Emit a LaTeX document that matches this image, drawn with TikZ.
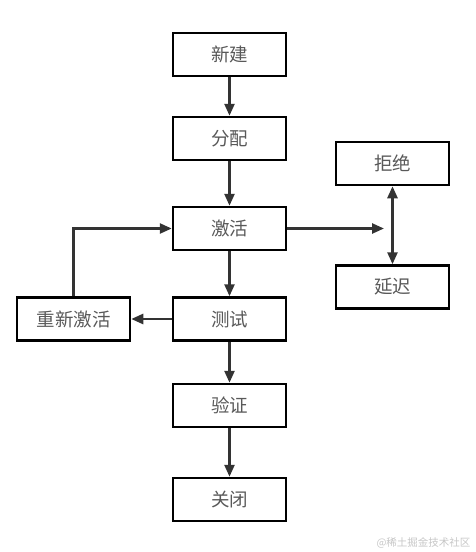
\documentclass[tikz,border=0pt]{standalone}
\usepackage{fontspec}
\newfontfamily\cjk{Noto Sans CJK SC}
\usetikzlibrary{arrows.meta}
\begin{document}
\begin{tikzpicture}[x=1pt,y=-1pt,
  box/.style={draw=black,line width=2.5pt,minimum width=113pt,minimum height=43pt,inner sep=0pt,font=\cjk\fontsize{18.5}{20}\selectfont,text=black!65},
  conn/.style={draw=black!80,line width=2.5pt,-{Triangle[length=12pt,width=10pt]}},
  dconn/.style={draw=black!80,line width=2.5pt,{Triangle[length=12pt,width=10pt]}-{Triangle[length=12pt,width=10pt]}}]
\useasboundingbox[fill=white] (0,0) rectangle (476,552);
\node[box] (new) at (229.5,54.5) {新建};
\node[box] (assign) at (229.5,138.5) {分配};
\node[box] (act) at (229.5,228.5) {激活};
\node[box] (test) at (229.5,319) {测试};
\node[box] (react) at (73.5,319) {重新激活};
\node[box] (verify) at (229.5,405.5) {验证};
\node[box] (close) at (229.5,499.5) {关闭};
\node[box] (reject) at (392.5,163.5) {拒绝};
\node[box] (delay) at (392.5,287) {延迟};
\coordinate (mid) at (384,228.5);
\draw[conn] (new) -- (assign);
\draw[conn] (assign) -- (act);
\draw[conn] (act) -- (test);
\draw[conn] (test) -- (verify);
\draw[conn] (verify) -- (close);
\draw[conn] (test) -- (react);
\draw[conn] (react.north) |- (act.west);
\draw[conn] (act.east) -- (mid);
\draw[dconn] (reject) -- (delay);
\node[font=\cjk\fontsize{10.5}{12}\selectfont,text=black!22,anchor=east] (wm) at (474,543) {@稀土掘金技术社区};
\end{tikzpicture}
\end{document}
